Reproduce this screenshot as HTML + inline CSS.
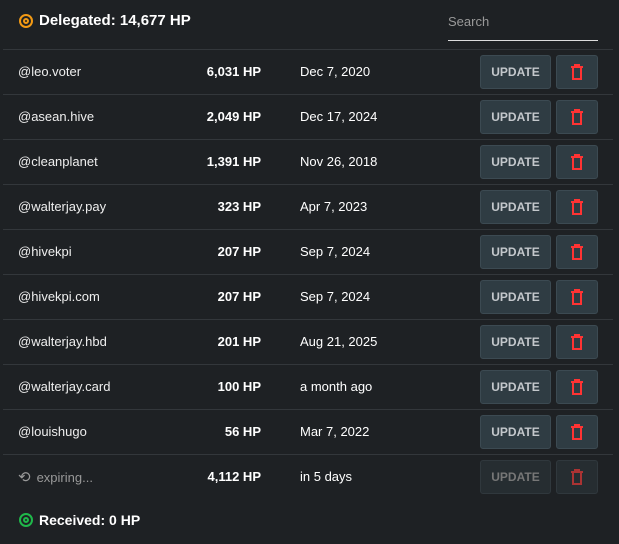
<!DOCTYPE html>
<html><head><style>
body{margin:0;width:619px;height:544px;background:#1e2124;font-family:"Liberation Sans",sans-serif;color:#fff;position:relative;overflow:hidden}
.h{position:absolute;left:19px;font-size:15px;font-weight:bold;display:flex;align-items:center}
.ring{width:10px;height:10px;border-radius:50%;border:2px solid;margin-right:6px;position:relative}
.ring:after{content:"";position:absolute;left:2px;top:2px;width:2px;height:2px;border-radius:50%;border:2px solid}
.search{position:absolute;left:448px;top:14px;width:150px;height:26px;border-bottom:1.5px solid #ddd;color:#999;font-size:13px}
.row{position:absolute;left:3px;width:610px;height:45px;border-top:1px solid #33373b;font-size:13px}
.n{position:absolute;left:15px;top:14px;color:#eee}
.a{position:absolute;right:352px;top:14px;font-weight:bold}
.d{position:absolute;left:297px;top:14px}
.u{position:absolute;left:477px;top:5px;width:69px;height:32px;background:#2f3c43;border:1px solid #3c4a52;border-radius:3px;color:#c4c8cc;font-size:12px;font-weight:bold;text-align:center;line-height:32px}
.x{position:absolute;left:553px;top:5px;width:40px;height:32px;background:#2f3c43;border:1px solid #3c4a52;border-radius:3px}
.x svg{position:absolute;left:13px;top:8px}
</style></head><body>
<div class="h" style="top:12px"><span class="ring" style="border-color:#f39a14;color:#f39a14"></span>Delegated: 14,677 HP</div>
<div class="search">Search</div>

<div class="row" style="top:49px"><span class="n">@leo.voter</span><span class="a">6,031 HP</span><span class="d">Dec 7, 2020</span><div class="u">UPDATE</div><div class="x"><svg width="14" height="16"><path d="M1 3h12M5 3V1h4v2M3 3v12h8V3" stroke="#f33" stroke-width="2" fill="none"/></svg></div></div>
<div class="row" style="top:94px"><span class="n">@asean.hive</span><span class="a">2,049 HP</span><span class="d">Dec 17, 2024</span><div class="u">UPDATE</div><div class="x"><svg width="14" height="16"><path d="M1 3h12M5 3V1h4v2M3 3v12h8V3" stroke="#f33" stroke-width="2" fill="none"/></svg></div></div>
<div class="row" style="top:139px"><span class="n">@cleanplanet</span><span class="a">1,391 HP</span><span class="d">Nov 26, 2018</span><div class="u">UPDATE</div><div class="x"><svg width="14" height="16"><path d="M1 3h12M5 3V1h4v2M3 3v12h8V3" stroke="#f33" stroke-width="2" fill="none"/></svg></div></div>
<div class="row" style="top:184px"><span class="n">@walterjay.pay</span><span class="a">323 HP</span><span class="d">Apr 7, 2023</span><div class="u">UPDATE</div><div class="x"><svg width="14" height="16"><path d="M1 3h12M5 3V1h4v2M3 3v12h8V3" stroke="#f33" stroke-width="2" fill="none"/></svg></div></div>
<div class="row" style="top:229px"><span class="n">@hivekpi</span><span class="a">207 HP</span><span class="d">Sep 7, 2024</span><div class="u">UPDATE</div><div class="x"><svg width="14" height="16"><path d="M1 3h12M5 3V1h4v2M3 3v12h8V3" stroke="#f33" stroke-width="2" fill="none"/></svg></div></div>
<div class="row" style="top:274px"><span class="n">@hivekpi.com</span><span class="a">207 HP</span><span class="d">Sep 7, 2024</span><div class="u">UPDATE</div><div class="x"><svg width="14" height="16"><path d="M1 3h12M5 3V1h4v2M3 3v12h8V3" stroke="#f33" stroke-width="2" fill="none"/></svg></div></div>
<div class="row" style="top:319px"><span class="n">@walterjay.hbd</span><span class="a">201 HP</span><span class="d">Aug 21, 2025</span><div class="u">UPDATE</div><div class="x"><svg width="14" height="16"><path d="M1 3h12M5 3V1h4v2M3 3v12h8V3" stroke="#f33" stroke-width="2" fill="none"/></svg></div></div>
<div class="row" style="top:364px"><span class="n">@walterjay.card</span><span class="a">100 HP</span><span class="d">a month ago</span><div class="u">UPDATE</div><div class="x"><svg width="14" height="16"><path d="M1 3h12M5 3V1h4v2M3 3v12h8V3" stroke="#f33" stroke-width="2" fill="none"/></svg></div></div>
<div class="row" style="top:409px"><span class="n">@louishugo</span><span class="a">56 HP</span><span class="d">Mar 7, 2022</span><div class="u">UPDATE</div><div class="x"><svg width="14" height="16"><path d="M1 3h12M5 3V1h4v2M3 3v12h8V3" stroke="#f33" stroke-width="2" fill="none"/></svg></div></div>
<div class="row" style="top:454px"><span class="n" style="color:#999;top:13px"><span style="font-size:15px;margin-right:6px">⟲</span>expiring...</span><span class="a">4,112 HP</span><span class="d">in 5 days</span><div class="u" style="background:#262d31;border-color:#30383d;color:#777">UPDATE</div><div class="x" style="background:#262d31;border-color:#30383d"><svg width="14" height="16"><path d="M1 3h12M5 3V1h4v2M3 3v12h8V3" stroke="#a33" stroke-width="2" fill="none"/></svg></div></div>

<div class="h" style="top:512px;font-size:14px"><span class="ring" style="border-color:#1fb84a;color:#1fb84a"></span>Received: 0 HP</div>
</body></html>
